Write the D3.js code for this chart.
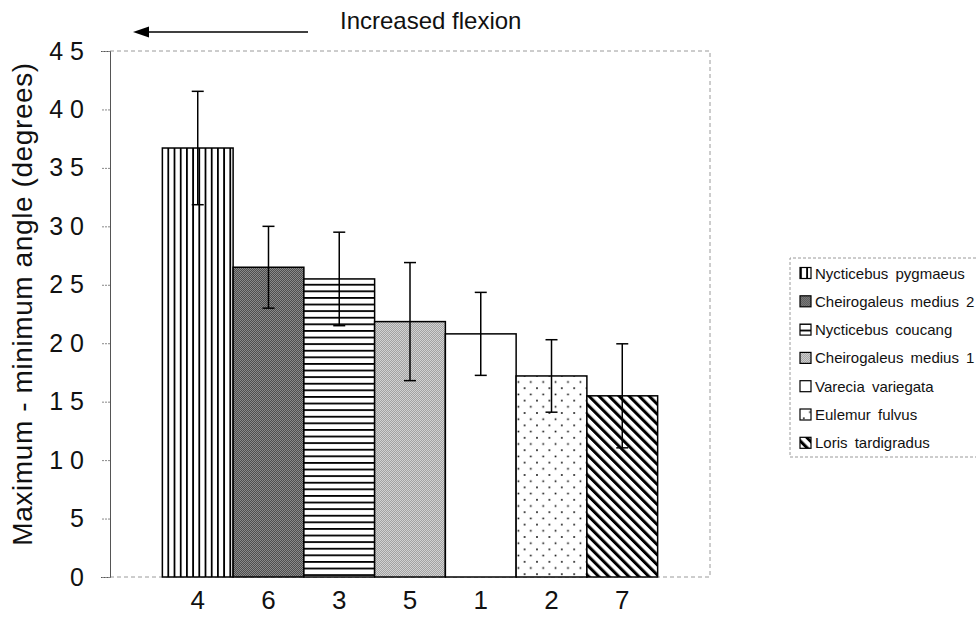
<!DOCTYPE html>
<html>
<head>
<meta charset="utf-8">
<script src="https://cdn.jsdelivr.net/npm/d3@7"></script>
<style>
  body { margin: 0; background: #fff; }
  svg { display: block; font-family: "Liberation Sans", Arial, sans-serif; }
</style>
</head>
<body>
<div id="chart"></div>
<script>
const groupLabels = ["4", "6", "3", "5", "1", "2", "7"]
const species = [
  "Nycticebus pygmaeus",
  "Cheirogaleus medius 2",
  "Nycticebus coucang",
  "Cheirogaleus medius 1",
  "Varecia variegata",
  "Eulemur fulvus",
  "Loris tardigradus"
]
const meanRange = [36.7, 26.5, 25.5, 21.85, 20.8, 17.2, 15.5]
const errRange = [4.85, 3.5, 4.0, 5.05, 3.55, 3.1, 4.45]
const yTicks = [0, 5, 10, 15, 20, 25, 30, 35, 40, 45]
const fills = ["vlines", "darkgrey", "hlines", "lightgrey", "white", "dots", "diag"]

const WIDTH = 977
const HEIGHT = 622
const PLOT = { LEFT: 110, RIGHT: 710, TOP: 51, BOTTOM: 577 }

const data = groupLabels.map((g, i) => ({
  group: g, name: species[i], mean: meanRange[i], err: errRange[i], fill: fills[i]
}))

const svg = d3.select("#chart").append("svg")
  .attr("width", WIDTH)
  .attr("height", HEIGHT)

// hatch / halftone patterns
const defs = svg.append("defs")

const vl = defs.append("pattern").attr("id", "vlines")
  .attr("patternUnits", "userSpaceOnUse").attr("width", 6.2).attr("height", 10)
vl.append("rect").attr("width", 6.2).attr("height", 10).attr("fill", "#fff")
vl.append("rect").attr("x", 0).attr("width", 1.8).attr("height", 10).attr("fill", "#000")

const hl = defs.append("pattern").attr("id", "hlines")
  .attr("patternUnits", "userSpaceOnUse").attr("width", 10).attr("height", 6.6)
hl.append("rect").attr("width", 10).attr("height", 6.6).attr("fill", "#fff")
hl.append("rect").attr("y", 0).attr("width", 10).attr("height", 1.8).attr("fill", "#000")

function halftone(id, a, b) {
  const p = defs.append("pattern").attr("id", id)
    .attr("patternUnits", "userSpaceOnUse").attr("width", 2).attr("height", 2)
  p.append("rect").attr("width", 2).attr("height", 2).attr("fill", a)
  p.append("rect").attr("width", 1).attr("height", 1).attr("fill", b)
  p.append("rect").attr("x", 1).attr("y", 1).attr("width", 1).attr("height", 1).attr("fill", b)
}
halftone("darkgrey", "#4e4e4e", "#8a8a8a")
halftone("lightgrey", "#a2a2a2", "#d2d2d2")

const dt = defs.append("pattern").attr("id", "dots")
  .attr("patternUnits", "userSpaceOnUse").attr("width", 12.4).attr("height", 12.4)
dt.append("rect").attr("width", 12.4).attr("height", 12.4).attr("fill", "#fff")
dt.append("rect").attr("x", 3).attr("y", 3).attr("width", 1.6).attr("height", 1.6).attr("fill", "#000")
dt.append("rect").attr("x", 9.2).attr("y", 9.2).attr("width", 1.6).attr("height", 1.6).attr("fill", "#000")

const dg = defs.append("pattern").attr("id", "diag")
  .attr("patternUnits", "userSpaceOnUse").attr("width", 7.1).attr("height", 10)
  .attr("patternTransform", "rotate(-45)")
dg.append("rect").attr("width", 7.1).attr("height", 10).attr("fill", "#fff")
dg.append("rect").attr("width", 3).attr("height", 10).attr("fill", "#000")

const fillOf = f => f === "white" ? "#fff" : `url(#${f})`

// scales
const x = d3.scaleBand()
  .domain(groupLabels)
  .range([PLOT.LEFT, PLOT.RIGHT])
  .paddingInner(0)
  .paddingOuter(0.74)

const y = d3.scaleLinear()
  .domain([0, 45])
  .range([PLOT.BOTTOM, PLOT.TOP])

// plot frame (dashed top / right / bottom, solid left)
svg.append("path")
  .attr("d", `M${PLOT.LEFT},${PLOT.TOP}H${PLOT.RIGHT}V${PLOT.BOTTOM}H${PLOT.LEFT}`)
  .attr("fill", "none")
  .attr("stroke", "#9a9a9a")
  .attr("stroke-dasharray", "4,3")

// y axis
const yAxis = svg.append("g")
  .attr("transform", `translate(${PLOT.LEFT},0)`)
  .call(d3.axisLeft(y).tickValues(yTicks).tickSize(9).tickPadding(10))
yAxis.select(".domain").attr("stroke", "#555")
yAxis.selectAll(".tick line").attr("stroke", "#888").attr("stroke-dasharray", "2,1")
yAxis.selectAll(".tick text")
  .attr("font-size", 25)
  .attr("font-family", "Liberation Sans, Arial, sans-serif")
  .attr("letter-spacing", 7)
  .attr("fill", "#111")

// bars
svg.append("g").selectAll("rect")
  .data(data)
  .join("rect")
  .attr("x", d => x(d.group))
  .attr("y", d => y(d.mean))
  .attr("width", x.bandwidth())
  .attr("height", d => y(0) - y(d.mean))
  .attr("fill", d => fillOf(d.fill))
  .attr("stroke", "#000")
  .attr("stroke-width", 1.5)

// error bars
const errG = svg.append("g").attr("stroke", "#000").attr("stroke-width", 1.5)
const cx = d => x(d.group) + x.bandwidth() / 2
errG.selectAll("line.v")
  .data(data).join("line").attr("class", "v")
  .attr("x1", cx).attr("x2", cx)
  .attr("y1", d => y(d.mean + d.err)).attr("y2", d => y(d.mean - d.err))
errG.selectAll("line.top")
  .data(data).join("line").attr("class", "top")
  .attr("x1", d => cx(d) - 6).attr("x2", d => cx(d) + 6)
  .attr("y1", d => y(d.mean + d.err)).attr("y2", d => y(d.mean + d.err))
errG.selectAll("line.bot")
  .data(data).join("line").attr("class", "bot")
  .attr("x1", d => cx(d) - 6).attr("x2", d => cx(d) + 6)
  .attr("y1", d => y(d.mean - d.err)).attr("y2", d => y(d.mean - d.err))

// x labels
svg.append("g").selectAll("text")
  .data(data)
  .join("text")
  .attr("x", cx)
  .attr("y", 609)
  .attr("text-anchor", "middle")
  .attr("font-size", 26)
  .attr("fill", "#111")
  .text(d => d.group)

// y axis title
svg.append("text")
  .attr("transform", "translate(32,304) rotate(-90)")
  .attr("text-anchor", "middle")
  .attr("font-size", 28)
  .attr("letter-spacing", 0.6)
  .attr("fill", "#111")
  .text("Maximum - minimum angle (degrees)")

// title with arrow
svg.append("text")
  .attr("x", 340)
  .attr("y", 29)
  .attr("font-size", 24)
  .attr("fill", "#111")
  .text("Increased flexion")

svg.append("line")
  .attr("x1", 308).attr("x2", 146)
  .attr("y1", 32).attr("y2", 32)
  .attr("stroke", "#000").attr("stroke-width", 1.5)
svg.append("path")
  .attr("d", "M133,32L149,26.5L149,37.5Z")
  .attr("fill", "#000")

// legend
const legend = svg.append("g")
legend.append("path")
  .attr("d", "M976,258H790V457H976")
  .attr("fill", "none")
  .attr("stroke", "#9a9a9a")
  .attr("stroke-dasharray", "3,2")

const item = legend.selectAll("g.item")
  .data(data)
  .join("g")
  .attr("class", "item")
  .attr("transform", (d, i) => `translate(800,${273 + i * 28.3})`)
item.append("rect")
  .attr("x", 0).attr("y", -5.5)
  .attr("width", 11).attr("height", 11)
  .attr("fill", d => fillOf(d.fill))
  .attr("stroke", "#000")
  .attr("stroke-width", 1.2)
item.append("text")
  .attr("x", 15)
  .attr("y", 0)
  .attr("dominant-baseline", "central")
  .attr("font-size", 15)
  .attr("word-spacing", 3)
  .attr("fill", "#111")
  .text(d => d.name)
</script>
</body>
</html>
